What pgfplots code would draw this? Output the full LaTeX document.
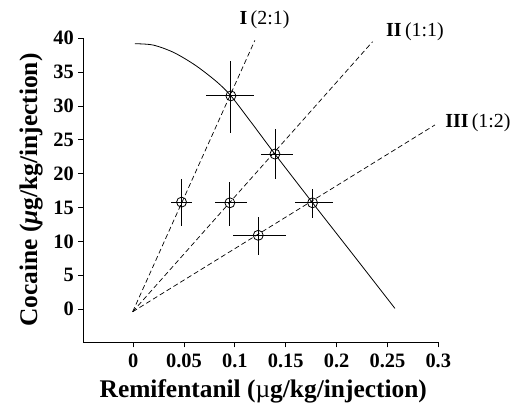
\documentclass[border=0pt]{standalone}
\usepackage{fontspec}
\setmainfont{Liberation Serif}
\usepackage{pgfplots}
\pgfplotsset{compat=1.18}
\begin{document}
\begin{tikzpicture}
\begin{axis}[
  scale only axis,
  width=355bp, height=304bp,
  xmin=-0.049, xmax=0.3, ymin=-4.9, ymax=40,
  axis x line*=bottom, axis y line*=left,
  axis line style={line width=0.8pt},
  tick align=outside, major tick length=5bp,
  tick style={line width=0.8pt, black},
  xtick={0,0.05,0.1,0.15,0.2,0.25,0.3},
  xticklabels={0,0.05,0.1,0.15,0.2,0.25,0.3},
  ytick={0,5,10,15,20,25,30,35,40},
  yticklabels={0,5,10,15,20,25,30,35,40},
  tick label style={font=\bfseries\fontsize{20.5}{20.5}\selectfont},
  xticklabel style={yshift=-3bp},
  yticklabel style={xshift=-1bp},
  xlabel={\textbf{Remifentanil} \textbf{(}µ\textbf{g/kg/injection)}},
  ylabel={\textbf{Cocaine (\textit{μ}g/kg/injection)}},
  label style={font=\fontsize{25.5}{25.5}\selectfont},
  xlabel style={at={(axis description cs:0.507,-0.183)}, anchor=base},
  ylabel style={at={(axis description cs:-0.130,0.501)}, anchor=base},
  clip=false,
]
\path (rel axis cs:-0.2347,-0.216) rectangle (rel axis cs:1.219,1.126);
% isobole curve
\addplot[black, line width=0.8pt, smooth] coordinates {
 (0.0016,39.2) (0.0197,39.0) (0.040,37.9) (0.0613,36.0) (0.082,33.6)
 (0.0961,31.5) (0.117,27.4) (0.1394,22.9) (0.1764,15.7) (0.217,7.9) (0.2574,0.1)
};
% ray lines
\addplot[black, dash pattern=on 5bp off 3bp, line width=0.7pt] coordinates {(-0.0005,-0.4) (0.1197,39.7)};
\addplot[black, dash pattern=on 5bp off 3bp, line width=0.7pt] coordinates {(-0.0005,-0.4) (0.2354,39.5)};
\addplot[black, dash pattern=on 5bp off 3bp, line width=0.7pt] coordinates {(-0.0005,-0.4) (0.2967,27.2)};
% data points
\addplot[only marks, mark=o, mark size=5bp, mark options={line width=0.8pt, black}, black,
  error bars/.cd, x dir=both, y dir=both, x explicit, y explicit, error mark=none,
  error bar style={line width=0.8pt, black}]
coordinates {
 (0.0961,31.5) += (0.0226,5.1) -= (0.0249,5.5)
 (0.1394,22.9) += (0.0174,3.7) -= (0.0141,3.7)
 (0.0476,15.8) += (0.0098,3.4) -= (0.0099,3.5)
 (0.0951,15.7) += (0.0170,3.0) -= (0.0148,3.4)
 (0.1764,15.7) += (0.0197,2.0) -= (0.0174,2.3)
 (0.1230,10.9) += (0.0270,2.7) -= (0.0253,2.9)
};
\node[font=\fontsize{20}{20}\selectfont] at (axis cs:0.1292,42.8) {\textbf{I}\,(2:1)};
\node[font=\fontsize{20}{20}\selectfont] at (axis cs:0.2771,41.0) {\textbf{II}\,(1:1)};
\node[font=\fontsize{20}{20}\selectfont] at (axis cs:0.339,27.5) {\textbf{III}\,(1:2)};
\end{axis}
\end{tikzpicture}
\end{document}
